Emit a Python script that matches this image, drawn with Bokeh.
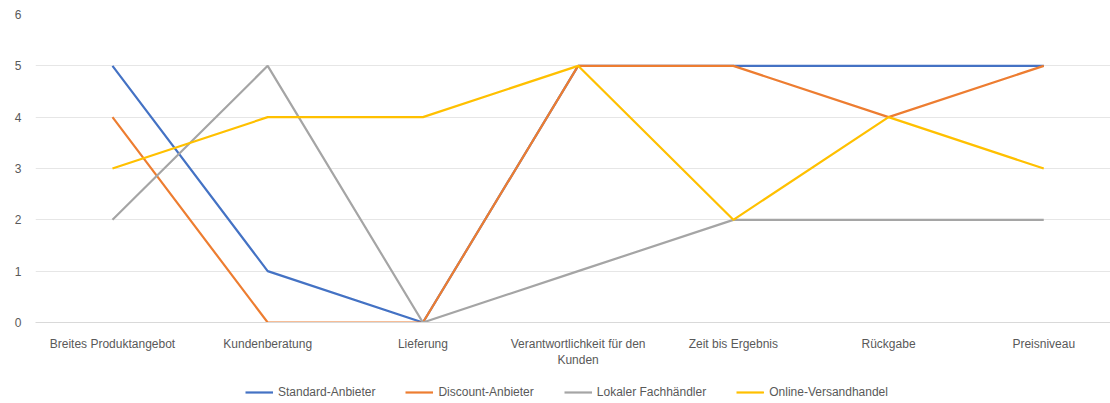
from bokeh.plotting import figure
from bokeh.models import FixedTicker, Legend, LegendItem, Range1d
from bokeh.layouts import column
from bokeh.embed import file_html
from bokeh.resources import INLINE

categories = ["Breites Produktangebot", "Kundenberatung", "Lieferung",
              "Verantwortlichkeit für den\nKunden", "Zeit bis Ergebnis",
              "Rückgabe", "Preisniveau"]
series_names = ["Standard-Anbieter", "Discount-Anbieter", "Lokaler Fachhändler", "Online-Versandhandel"]
blue = [5, 1, 0, 5, 5, 5, 5]
orange = [4, 0, 0, 5, 5, 4, 5]
grey = [2, 5, 0, 1, 2, 2, 2]
yellow = [3, 4, 4, 5, 2, 4, 3]
y_ticks = [0, 1, 2, 3, 4, 5, 6]

colors = ["#4472C4", "#ED7D31", "#A5A5A5", "#FFC000"]
xs = list(range(len(categories)))

p = figure(width=1110, height=375, output_backend="svg", toolbar_location=None,
           x_range=Range1d(-0.496, 6.43), y_range=Range1d(0, 6),
           min_border_left=35, min_border_right=0, min_border_top=14, min_border_bottom=53)
p.outline_line_color = None
p.background_fill_color = "white"
p.border_fill_color = "white"

series = [blue, orange, grey, yellow]
for vals, c in zip(series, colors):
    p.line(xs, vals, line_color=c, line_width=2.2)

p.xaxis.ticker = FixedTicker(ticks=xs)
p.xaxis.major_label_overrides = {i: c for i, c in enumerate(categories)}
p.xaxis.axis_line_color = "#D9D9D9"
p.xaxis.major_tick_line_color = None
p.xaxis.minor_tick_line_color = None
p.xaxis.major_label_text_color = "#595959"
p.xaxis.major_label_text_font = "Liberation Sans"
p.xaxis.major_label_text_font_size = "12px"
p.xaxis.major_label_standoff = 8

p.yaxis.ticker = FixedTicker(ticks=y_ticks)
p.yaxis.axis_line_color = None
p.yaxis.major_tick_line_color = None
p.yaxis.minor_tick_line_color = None
p.yaxis.major_label_text_color = "#595959"
p.yaxis.major_label_text_font = "Liberation Sans"
p.yaxis.major_label_text_font_size = "12px"
p.yaxis.major_label_standoff = 8

p.xgrid.grid_line_color = None
p.ygrid.grid_line_color = "#E6E6E6"
p.ygrid.ticker = FixedTicker(ticks=y_ticks)

# legend strip (same series drawn off-screen so the legend can show their line style)
lg = figure(width=1110, height=28, output_backend="svg", toolbar_location=None,
            x_range=Range1d(100, 101), y_range=Range1d(100, 101),
            min_border_left=0, min_border_right=0, min_border_top=0, min_border_bottom=0)
lg.outline_line_color = None
lg.axis.visible = False
lg.grid.visible = False
lg_renderers = [lg.line(xs, vals, line_color=c, line_width=2.2) for vals, c in zip(series, colors)]
legend = Legend(items=[LegendItem(label=n, renderers=[r]) for n, r in zip(series_names, lg_renderers)],
                orientation="horizontal", location=(210, 3),
                label_text_font="Liberation Sans", label_text_font_size="12px",
                label_text_color="#595959", glyph_width=28, spacing=30,
                label_height=16, glyph_height=16,
                border_line_color=None, background_fill_alpha=0, margin=0, padding=2)
lg.add_layout(legend, "center")

open("out.html", "w").write(file_html(column(p, lg), INLINE))
